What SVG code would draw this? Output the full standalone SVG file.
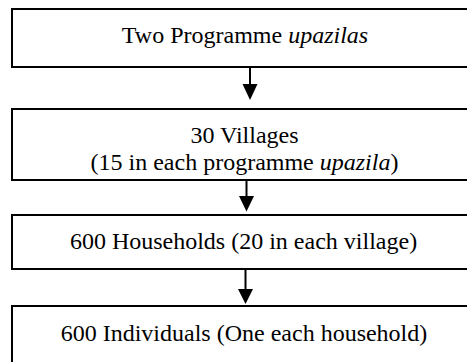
<svg xmlns="http://www.w3.org/2000/svg" width="467" height="362" viewBox="0 0 467 362">
<style>
.box{fill:#fff;stroke:#000;stroke-width:2}
.t{font-family:"Liberation Serif","Times New Roman",serif;font-size:24px;fill:#000;text-anchor:middle}
.conn{stroke:#000;stroke-width:2;fill:none}
.head{fill:#000;stroke:none}
</style>
<rect width="467" height="362" fill="#fff"/>
<g id="connectors">
<line class="conn" x1="250" y1="67" x2="250" y2="85"/>
<polygon class="head" points="242.5,84 257.5,84 250,100"/>
<line class="conn" x1="246.5" y1="180" x2="246.5" y2="197"/>
<polygon class="head" points="239,196 254,196 246.5,211.5"/>
<line class="conn" x1="245.5" y1="269" x2="245.5" y2="290"/>
<polygon class="head" points="238,289 253,289 245.5,304"/>
</g>
<g id="n1">
<rect class="box" x="12" y="9" width="470" height="58"/>
<text class="t" x="245" y="43">Two Programme <tspan font-style="italic">upazilas</tspan></text>
</g>
<g id="n2">
<rect class="box" x="12" y="109" width="470" height="71"/>
<text class="t" x="244.5" y="142.5">30 Villages</text>
<text class="t" x="244.5" y="170">(15 in each programme <tspan font-style="italic">upazila</tspan>)</text>
</g>
<g id="n3">
<rect class="box" x="12" y="215" width="470" height="54"/>
<text class="t" x="243.5" y="248.5">600 Households (20 in each village)</text>
</g>
<g id="n4">
<rect class="box" x="12" y="306" width="470" height="80"/>
<text class="t" x="244" y="341">600 Individuals (One each household)</text>
</g>
</svg>
